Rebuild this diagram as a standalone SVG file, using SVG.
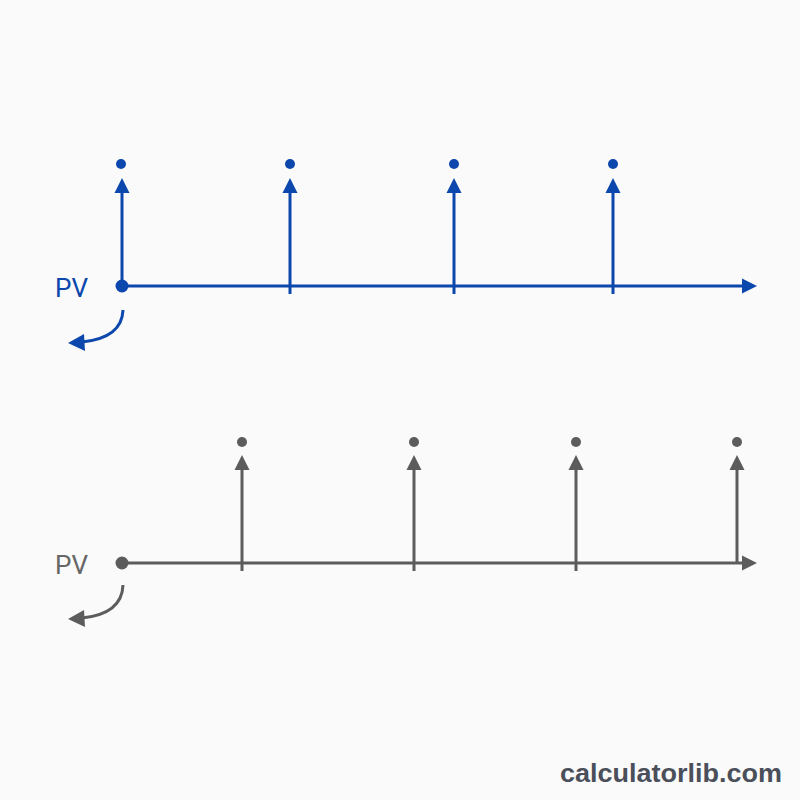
<svg xmlns="http://www.w3.org/2000/svg" width="800" height="800" viewBox="0 0 800 800">
<defs>
<style>
.b{stroke:#0c47ad;fill:none;stroke-width:3}
.bf{fill:#0c47ad}
.g{stroke:#5c5c5c;fill:none;stroke-width:3}
.gf{fill:#5c5c5c}
.lbl{font-family:"Roboto","Liberation Sans",sans-serif;font-size:26px}
</style>
</defs>
<rect width="800" height="800" fill="#fafafa"/>
<g id="timeline-top">
<g id="connectors-top">
<path class="b" d="M122,286 H744"/>
<polygon class="bf" points="742,278.5 757,286 742,293.5"/>
<path class="b" d="M122,286 V192"/>
<polygon class="bf" points="114.5,193 122,178 129.5,193"/>
<path class="b" d="M290,294 V192"/>
<polygon class="bf" points="282.5,193 290,178 297.5,193"/>
<path class="b" d="M454,294 V192"/>
<polygon class="bf" points="446.5,193 454,178 461.5,193"/>
<path class="b" d="M613,294 V192"/>
<polygon class="bf" points="605.5,193 613,178 620.5,193"/>
<path class="b" d="M123,310 Q122,338 82,342"/>
<polygon class="bf" points="84,334 68,343 85,351"/>
</g>
<g id="top-nodes">
<circle class="bf" cx="122" cy="286" r="6.5"/>
<circle class="bf" cx="121" cy="164" r="5"/>
<circle class="bf" cx="290" cy="164" r="5"/>
<circle class="bf" cx="454" cy="164" r="5"/>
<circle class="bf" cx="613" cy="164" r="5"/>
<text class="lbl bf" x="55" y="297">PV</text>
</g>
</g>
<g id="timeline-bottom">
<g id="connectors-bottom">
<path class="g" d="M122,563 H744"/>
<polygon class="gf" points="742,555.5 757,563 742,570.5"/>
<path class="g" d="M242,571 V469"/>
<polygon class="gf" points="234.5,470 242,455 249.5,470"/>
<path class="g" d="M414,571 V469"/>
<polygon class="gf" points="406.5,470 414,455 421.5,470"/>
<path class="g" d="M576,571 V469"/>
<polygon class="gf" points="568.5,470 576,455 583.5,470"/>
<path class="g" d="M737,563 V469"/>
<polygon class="gf" points="729.5,470 737,455 744.5,470"/>
<path class="g" d="M123,585 Q122,614 82,618"/>
<polygon class="gf" points="84,610 68,619 85,627"/>
</g>
<g id="bottom-nodes">
<circle class="gf" cx="122" cy="563" r="6.5"/>
<circle class="gf" cx="242" cy="442" r="5"/>
<circle class="gf" cx="414" cy="442" r="5"/>
<circle class="gf" cx="576" cy="442" r="5"/>
<circle class="gf" cx="737" cy="442" r="5"/>
<text class="lbl" x="55" y="574" fill="#666666">PV</text>
</g>
</g>
<text x="560" y="782" textLength="222" lengthAdjust="spacingAndGlyphs" font-family="'Liberation Sans',Arial,sans-serif" font-weight="bold" font-size="25" fill="#4a4f5a">calculatorlib.com</text>
</svg>
